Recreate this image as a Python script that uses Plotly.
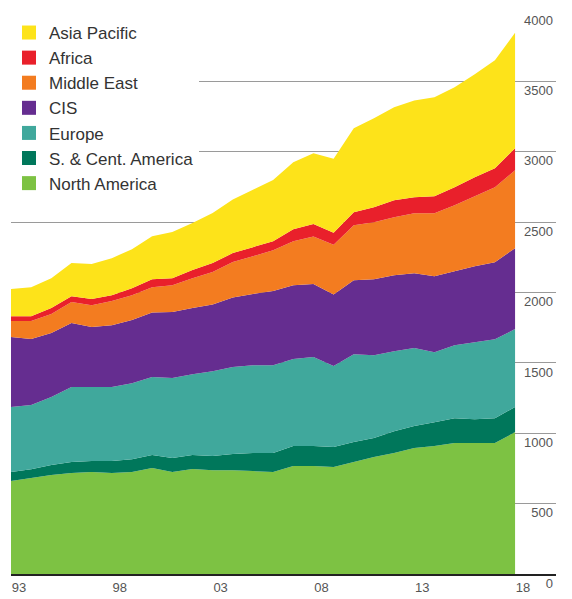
import plotly.graph_objects as go

years = list(range(1993, 2019))

north_america = [660, 682, 703, 717, 724, 717, 724, 753, 724, 746, 738, 738, 731, 724, 767, 767, 760, 795, 831, 859, 895, 909, 930, 930, 930, 1008]
s_cent_america = [64, 63, 71, 78, 78, 85, 92, 92, 100, 99, 100, 114, 128, 135, 142, 142, 142, 142, 135, 156, 156, 170, 177, 170, 177, 178]
europe = [462, 455, 483, 533, 526, 526, 540, 554, 568, 575, 603, 618, 625, 625, 618, 632, 575, 625, 589, 568, 554, 497, 519, 547, 561, 554]
cis = [497, 469, 455, 455, 426, 440, 448, 459, 469, 469, 474, 495, 506, 526, 525, 519, 508, 525, 539, 540, 532, 540, 525, 540, 547, 575]
middle_east = [114, 128, 135, 149, 156, 171, 177, 180, 191, 213, 230, 251, 268, 290, 313, 337, 355, 391, 405, 412, 426, 447, 469, 497, 533, 553]
africa = [35, 35, 42, 42, 43, 42, 50, 57, 50, 57, 64, 64, 64, 65, 85, 89, 85, 92, 107, 120, 114, 121, 128, 135, 135, 157]
asia_pacific = [192, 206, 213, 235, 249, 263, 277, 305, 327, 334, 355, 380, 408, 435, 476, 504, 525, 597, 632, 661, 688, 703, 710, 731, 767, 820]

series_names = ["North America", "S. & Cent. America", "Europe", "CIS", "Middle East", "Africa", "Asia Pacific"]
series_values = [north_america, s_cent_america, europe, cis, middle_east, africa, asia_pacific]
series_colors = ["#7DC243", "#00775B", "#40A89C", "#652D90", "#F37C20", "#E9202B", "#FDE31A"]

x_tick_vals = [1993, 1998, 2003, 2008, 2013, 2018]
x_tick_text = ["93", "98", "03", "08", "13", "18"]
y_tick_vals = [0, 500, 1000, 1500, 2000, 2500, 3000, 3500, 4000]

fig = go.Figure()

for name, vals, col in zip(series_names, series_values, series_colors):
    fig.add_trace(go.Scatter(
        x=years, y=vals, name=name, stackgroup="one", mode="none",
        fillcolor=col, showlegend=False, hoverinfo="skip"))

for name, col in reversed(list(zip(series_names, series_colors))):
    fig.add_trace(go.Scatter(
        x=[None], y=[None], name=name, mode="markers",
        marker=dict(symbol="square", size=14, color=col), showlegend=True))

fig.update_layout(
    width=572, height=599,
    margin=dict(l=11, r=16, t=11, b=25, autoexpand=False),
    paper_bgcolor="white", plot_bgcolor="white",
    font=dict(family="Liberation Sans, Arial, sans-serif", color="#555555", size=13),
    showlegend=True,
    legend=dict(
        xref="container", yref="container",
        x=0.0157, y=0.975, xanchor="left", yanchor="top",
        bgcolor="white", borderwidth=0,
        font=dict(size=17, color="#333333"),
        traceorder="normal", tracegroupgap=0,
    ),
    xaxis=dict(
        range=[1993, 2020.03], tickvals=x_tick_vals, ticktext=x_tick_text,
        showgrid=False, zeroline=False, ticks="", automargin=False,
        ticklabelposition="outside right", ticklabelstandoff=1,
        showline=True, linecolor="#222222", linewidth=1.5,
        tickfont=dict(size=13, color="#555555"),
    ),
    yaxis=dict(
        range=[0, 4000], tickvals=y_tick_vals, side="right",
        showgrid=True, gridcolor="#9A9A9A", gridwidth=1, automargin=False,
        zeroline=False, ticks="", showline=False,
        ticklabelposition="inside bottom", ticklabeloverflow="allow",
        tickfont=dict(size=13, color="#555555"),
    ),
)

fig.write_html("out.html")
